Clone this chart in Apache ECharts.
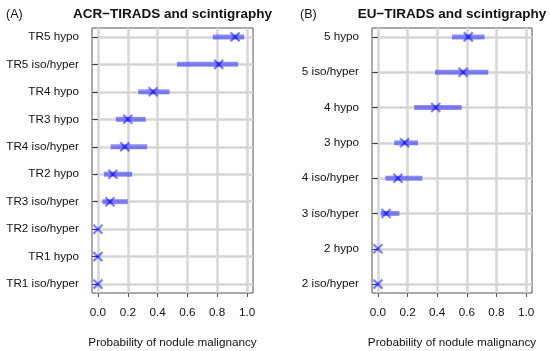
<!DOCTYPE html>
<html>
<head>
<meta charset="utf-8">
<script src="https://cdn.jsdelivr.net/npm/echarts@6/dist/echarts.min.js"></script>
<style>html,body{margin:0;padding:0;background:#fff}#c{width:550px;height:351px}</style>
</head>
<body>
<div id="c"></div>
<script>
// Panel A (top to bottom)
const catsA = ['TR5 hypo','TR5 iso/hyper','TR4 hypo','TR3 hypo','TR4 iso/hyper','TR2 hypo','TR3 iso/hyper','TR2 iso/hyper','TR1 hypo','TR1 iso/hyper'];
const estA  = [0.92, 0.81, 0.37, 0.20, 0.18, 0.10, 0.08, 0, 0, 0];
const lowA  = [0.77, 0.53, 0.27, 0.12, 0.085, 0.04, 0.03, null, null, null];
const highA = [0.98, 0.94, 0.48, 0.32, 0.33, 0.23, 0.20, null, null, null];
// Panel B (top to bottom)
const catsB = ['5 hypo','5 iso/hyper','4 hypo','3 hypo','4 iso/hyper','3 iso/hyper','2 hypo','2 iso/hyper'];
const estB  = [0.61, 0.575, 0.39, 0.18, 0.135, 0.055, 0, 0];
const lowB  = [0.50, 0.385, 0.245, 0.11, 0.05, 0.02, null, null];
const highB = [0.72, 0.745, 0.565, 0.27, 0.30, 0.145, null, null];
const xTicks = [0, 0.2, 0.4, 0.6, 0.8, 1.0];
const titleA = 'ACR\u2212TIRADS and scintigraphy';
const titleB = 'EU\u2212TIRADS and scintigraphy';
const xName = 'Probability of nodule malignancy';

const FONT = 'Liberation Sans, Arial, sans-serif';
const chart = echarts.init(document.getElementById('c'), null, {renderer: 'canvas'});

function xAxis(idx) {
  return {
    type: 'value', gridIndex: idx, min: -0.04, max: 1.04,
    axisLine: {show: false},
    axisTick: {show: true, length: 4, customValues: xTicks, lineStyle: {color: '#555'}},
    axisLabel: {customValues: xTicks, formatter: v => v.toFixed(1), margin: 14, color: '#111', fontSize: 11.7, fontFamily: FONT},
    splitLine: {show: true, lineStyle: {color: '#d6d6d6', width: 2.5}},
    name: xName, nameLocation: 'middle', nameGap: 44,
    nameTextStyle: {color: '#111', fontSize: 11.7, fontFamily: FONT}
  };
}
function yAxis(idx, cats) {
  const vals = cats.map((c, i) => i + 1);
  return {
    type: 'value', gridIndex: idx, inverse: true, min: 1 - 0.036 * (cats.length - 1), max: cats.length + 0.036 * (cats.length - 1),
    axisLine: {show: false},
    axisTick: {show: true, length: 6, customValues: vals, lineStyle: {color: '#444'}},
    axisLabel: {customValues: vals, formatter: v => cats[Math.round(v) - 1], margin: 13, color: '#111', fontSize: 11.7, fontFamily: FONT},
    splitLine: {show: true, lineStyle: {color: '#d6d6d6', width: 2.5}}
  };
}
function ciData(low, high) {
  return low.map((l, i) => [l, high[i], i + 1]);
}
function ciSeries(idx, low, high) {
  return {
    type: 'custom', xAxisIndex: idx, yAxisIndex: idx,
    data: ciData(low, high),
    encode: {x: [0, 1], y: 2},
    renderItem: function (params, api) {
      const l = api.value(0), h = api.value(1);
      if (l == null || h == null || isNaN(l) || isNaN(h)) return null;
      const p1 = api.coord([l, api.value(2)]);
      const p2 = api.coord([h, api.value(2)]);
      return {type: 'line', shape: {x1: p1[0], y1: p1[1], x2: p2[0], y2: p2[1]},
        style: {stroke: 'rgba(0,0,255,0.45)', lineWidth: 5}};
    },
    z: 3
  };
}
function estSeries(idx, est) {
  return {
    type: 'custom', xAxisIndex: idx, yAxisIndex: idx,
    data: est.map((e, i) => [e, i + 1]),
    encode: {x: 0, y: 1},
    renderItem: function (params, api) {
      const p = api.coord([api.value(0), api.value(1)]);
      const s = 4.5;
      const st = {stroke: 'rgba(0,0,255,0.5)', lineWidth: 2.2};
      return {type: 'group', children: [
        {type: 'line', shape: {x1: p[0]-s, y1: p[1]-s, x2: p[0]+s, y2: p[1]+s}, style: st},
        {type: 'line', shape: {x1: p[0]-s, y1: p[1]+s, x2: p[0]+s, y2: p[1]-s}, style: st}
      ]};
    },
    z: 4
  };
}

chart.setOption({
  animation: false,
  backgroundColor: '#fff',
  title: [
    {text: titleA, left: 172.5, top: 7.5, padding: 0, textAlign: 'center', textStyle: {fontSize: 13.5, fontWeight: 'bold', color: '#111', fontFamily: FONT}},
    {text: titleB, left: 452, top: 7.5, padding: 0, textAlign: 'center', textStyle: {fontSize: 13.5, fontWeight: 'bold', color: '#111', fontFamily: FONT}},
    {text: '(A)', left: 6, top: 8.5, padding: 0, textStyle: {fontSize: 12.5, fontWeight: 'normal', color: '#111', fontFamily: FONT}},
    {text: '(B)', left: 300, top: 8.5, padding: 0, textStyle: {fontSize: 12.5, fontWeight: 'normal', color: '#111', fontFamily: FONT}}
  ],
  grid: [
    {left: 92, top: 28, width: 161, height: 265, show: true, borderColor: '#555', borderWidth: 1, backgroundColor: 'transparent', containLabel: false, outerBoundsMode: 'none'},
    {left: 372, top: 28, width: 160, height: 265, show: true, borderColor: '#555', borderWidth: 1, backgroundColor: 'transparent', containLabel: false, outerBoundsMode: 'none'}
  ],
  xAxis: [xAxis(0), xAxis(1)],
  yAxis: [yAxis(0, catsA), yAxis(1, catsB)],
  series: [
    ciSeries(0, lowA, highA), estSeries(0, estA),
    ciSeries(1, lowB, highB), estSeries(1, estB)
  ]
});
</script>
</body>
</html>
